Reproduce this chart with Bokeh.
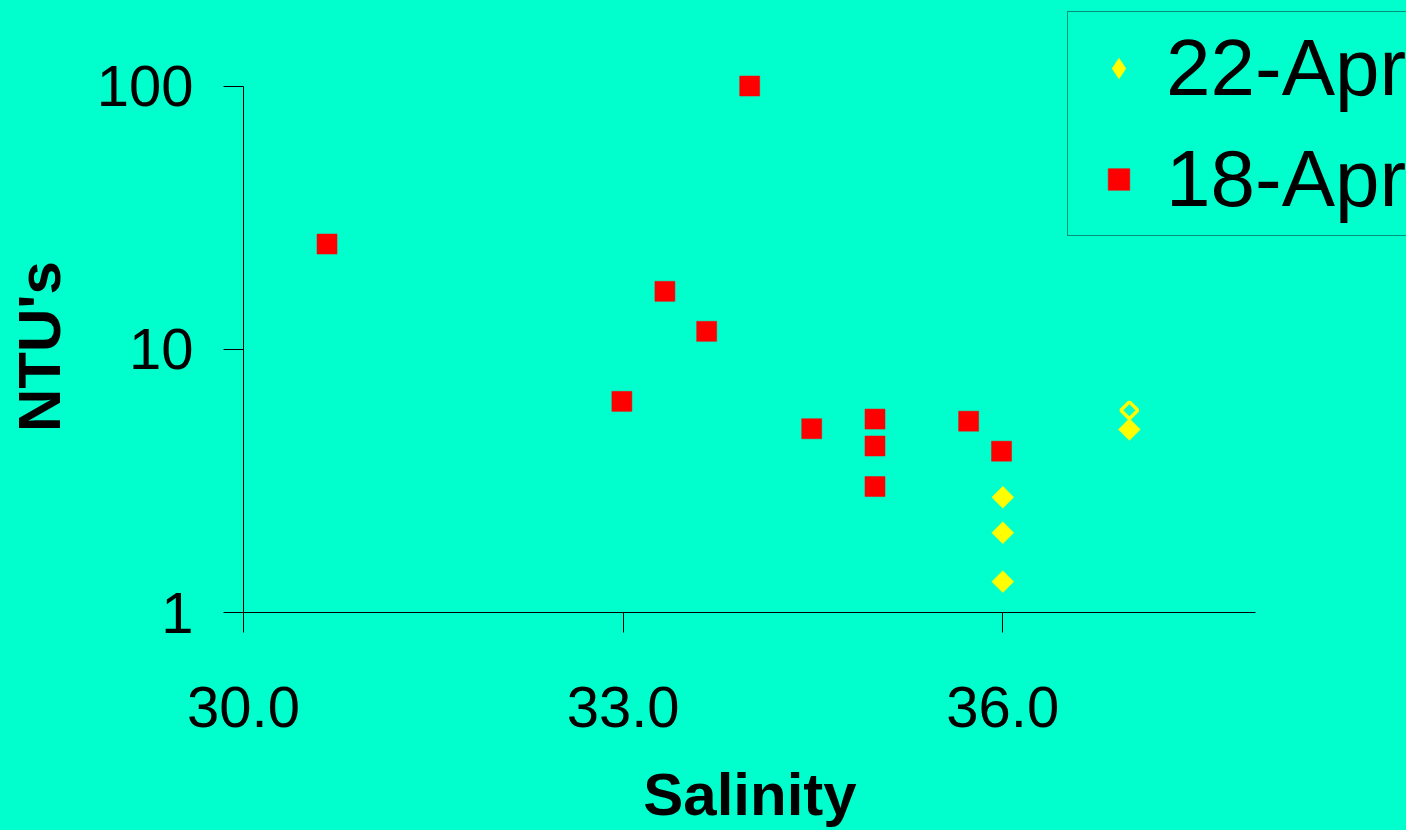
import math
from bokeh.plotting import figure
from bokeh.models import (Range1d, FixedTicker, Legend, LegendItem, NumeralTickFormatter)
from bokeh.embed import file_html
from bokeh.resources import INLINE

# ---- data ----
apr18_salinity = [30.66, 32.99, 33.33, 33.66, 34.0, 34.49, 34.99, 34.99, 34.99, 35.73, 35.99]
apr18_ntu = [25.1, 6.34, 16.6, 11.7, 100.0, 4.99, 5.43, 4.29, 3.01, 5.33, 4.1]

apr22_salinity = [36.0, 36.0, 36.0, 37.0]
apr22_ntu = [2.74, 2.01, 1.31, 4.96]

apr22_open_salinity = [37.0]
apr22_open_ntu = [5.86]

x_ticks = [30, 33, 36]
x_bounds = (30, 38)
y_ticks = [1, 10, 100]
y_bounds = (1, 100)
y_tick_labels = ["1", "10", "100"]

series_labels = ["22-Apr", "18-Apr"]
x_title = "Salinity"
y_title = "NTU's"

BG = "#00FFCC"
FONT = "Liberation Sans"
RED = "#FF0000"
YELLOW = "#FFFF00"

# The frame reaches the top and right edges so that marks and the legend are not clipped;
# the axis lines themselves are limited by their bounds.
p = figure(width=1406, height=830, output_backend="svg", toolbar_location=None,
           y_axis_type="log", x_range=Range1d(30, 39.19), y_range=Range1d(1, 211.3),
           min_border_left=243, min_border_right=0, min_border_top=0,
           min_border_bottom=218)
p.background_fill_color = BG
p.border_fill_color = BG
p.outline_line_color = None
p.xgrid.visible = False
p.ygrid.visible = False

r_red = p.scatter(apr18_salinity, apr18_ntu, marker="square", size=20,
                  fill_color=RED, line_color=RED, line_width=0.5)
# 22-Apr: a diamond glyph (also used as the legend swatch) lies under the
# equal-sided rotated squares that give the reference's diamond shape
r_yel_key = p.scatter(apr22_salinity, apr22_ntu, marker="diamond", size=19,
                      fill_color=YELLOW, line_color=None)
p.scatter(apr22_salinity, apr22_ntu, marker="square", size=15.5, angle=math.pi / 4,
          fill_color=YELLOW, line_color=YELLOW, line_width=0.5)
p.scatter(apr22_open_salinity, apr22_open_ntu, marker="square", size=12, angle=math.pi / 4,
          fill_color=None, line_color=YELLOW, line_width=3.5)

for ax in (p.xaxis[0], p.yaxis[0]):
    ax.axis_line_color = "black"
    ax.axis_line_width = 1
    ax.major_tick_line_color = "black"
    ax.major_tick_out = 20
    ax.major_tick_in = 0
    ax.minor_tick_line_color = None
    ax.major_label_text_font = FONT
    ax.major_label_text_font_size = "58px"
    ax.major_label_text_color = "black"
    ax.axis_label_text_font = FONT
    ax.axis_label_text_font_style = "bold"
    ax.axis_label_text_font_size = "60px"
    ax.axis_label_text_color = "black"

# the axis titles are centred on the (extended) frame; trailing fixed-width spaces
# move the visible words back over the middle of the drawn axis lines
p.xaxis[0].bounds = x_bounds
p.xaxis[0].ticker = FixedTicker(ticks=x_ticks)
p.xaxis[0].formatter = NumeralTickFormatter(format="0.0")
p.xaxis[0].major_label_standoff = 54
p.xaxis[0].axis_label = x_title + "\u2002" * 5
p.xaxis[0].axis_label_standoff = 31

p.yaxis[0].bounds = y_bounds
p.yaxis[0].ticker = FixedTicker(ticks=y_ticks)
p.yaxis[0].major_label_overrides = {t: s for t, s in zip(y_ticks, y_tick_labels)}
p.yaxis[0].major_label_standoff = 30
p.yaxis[0].axis_label = y_title + "\u2002\u2002\u2004"
p.yaxis[0].axis_label_standoff = 21

legend = Legend(items=[LegendItem(label=series_labels[0], renderers=[r_yel_key]),
                       LegendItem(label=series_labels[1], renderers=[r_red])],
                location=(824, 376))
legend.label_text_font = FONT
legend.label_text_font_size = "80px"
legend.label_text_color = "black"
legend.background_fill_color = BG
legend.background_fill_alpha = 1.0
legend.border_line_color = "#002a1e"
legend.border_line_width = 1
legend.padding = 10
legend.spacing = 19
legend.margin = 0
legend.glyph_width = 81
legend.glyph_height = 54
legend.label_standoff = 7
p.add_layout(legend, "center")

html = file_html(p, INLINE)
html = html.replace("</head>",
                    "<style>html,body{background:%s;}</style></head>" % BG, 1)
open("out.html", "w").write(html)
